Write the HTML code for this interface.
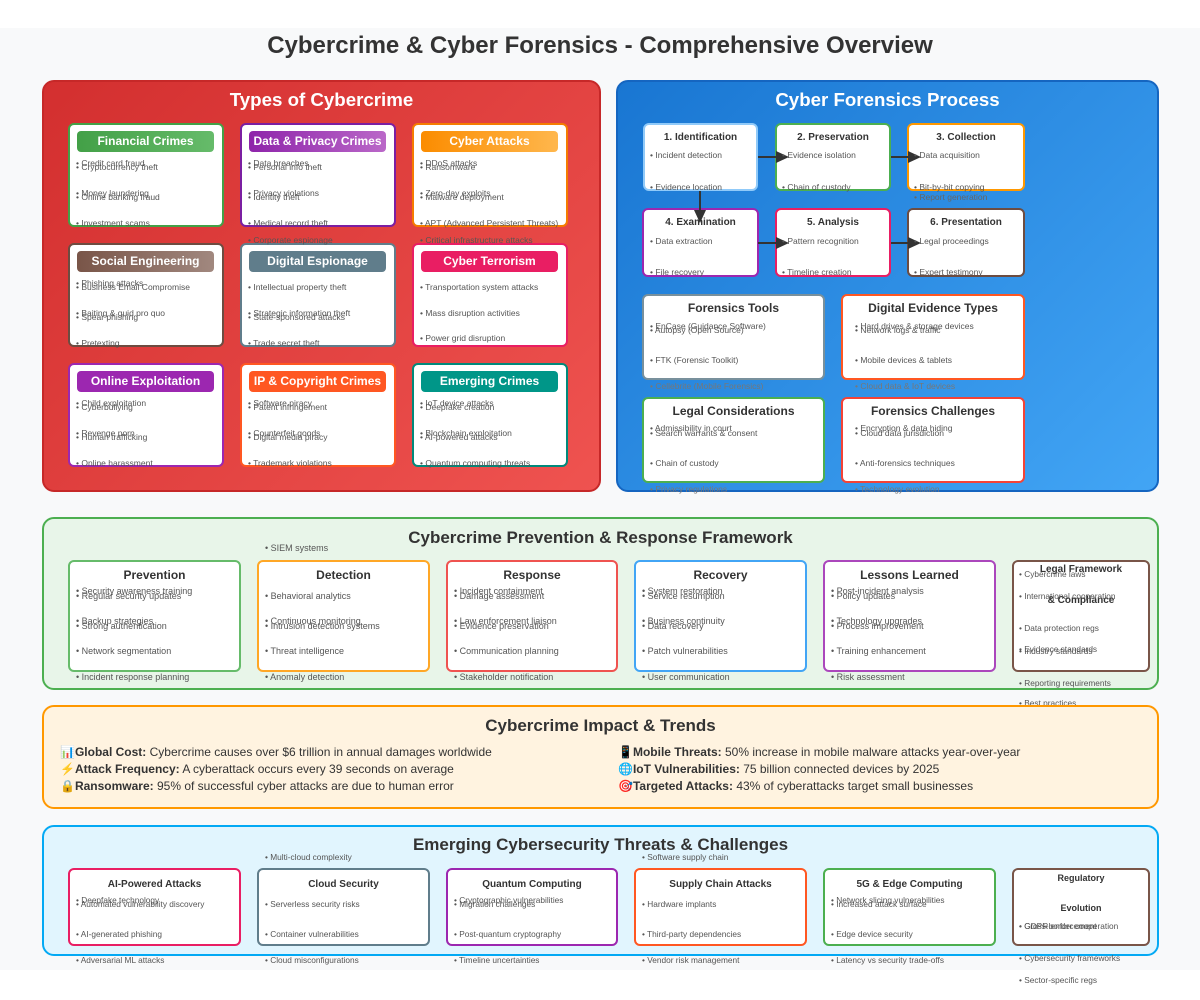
<!DOCTYPE html>
<html><head><meta charset="utf-8"><style>
*{margin:0;padding:0;box-sizing:border-box}
body{width:1200px;height:1000px;background:#fff;position:relative;overflow:hidden;font-family:"Liberation Sans","Noto Sans CJK SC",sans-serif;color:#333}
div{position:absolute}
.bg{left:0;top:28px;width:1200px;height:942px;background:#f8f9fa}
.h1{left:0;width:1200px;top:32px;text-align:center;font-size:24px;font-weight:bold;color:#333}
.panel{border-radius:12px;border:2px solid}
.pt{width:100%;text-align:center;font-weight:bold;font-size:17px}
.pt2{font-size:18.7px}
.card{background:#fff;border:2px solid;border-radius:6px}
.pill{left:7px;top:6px;width:137px;height:21px;border-radius:4px;color:#fff;font-weight:bold;font-size:12px;text-align:center;line-height:21px}
.i{font-size:8.5px;color:#555;white-space:nowrap}
.j{font-size:9px;color:#555;white-space:nowrap}
.k{font-size:8.3px;color:#555;white-space:nowrap}
.ct{width:100%;text-align:center;font-weight:bold;font-size:10px;color:#333}
.ar{height:2px;background:#333}
.ah{width:0;height:0;border-top:6px solid transparent;border-bottom:6px solid transparent;border-left:13px solid #333}
.imp{font-size:12px;color:#333;white-space:nowrap}
</style></head><body>
<div class="bg"></div>
<div class="h1">Cybercrime &amp; Cyber Forensics - Comprehensive Overview</div>

<!-- red panel -->
<div class="panel" style="left:42px;top:80px;width:559px;height:412px;background:linear-gradient(135deg,#d32f2f,#ef5350);border-color:#c62828"></div>
<div class="pt pt2" style="left:42px;width:559px;top:89px;color:#fff">Types of Cybercrime</div>

<div class="card" style="left:68px;top:123px;width:156px;height:104px;border-color:#43a047"><div class="pill" style="background:linear-gradient(90deg,#43a047,#66bb6a)">Financial Crimes</div></div>
<div class="card" style="left:240px;top:123px;width:156px;height:104px;border-color:#7b1fa2"><div class="pill" style="background:linear-gradient(90deg,#8e24aa,#ba68c8)">Data &amp; Privacy Crimes</div></div>
<div class="card" style="left:412px;top:123px;width:156px;height:104px;border-color:#f57c00"><div class="pill" style="background:linear-gradient(90deg,#fb8c00,#ffb74d)">Cyber Attacks</div></div>
<div class="card" style="left:68px;top:243px;width:156px;height:104px;border-color:#6d4c41"><div class="pill" style="background:linear-gradient(90deg,#795548,#a1887f)">Social Engineering</div></div>
<div class="card" style="left:240px;top:243px;width:156px;height:104px;border-color:#607d8b"><div class="pill" style="background:#607d8b">Digital Espionage</div></div>
<div class="card" style="left:412px;top:243px;width:156px;height:104px;border-color:#e91e63"><div class="pill" style="background:#e91e63">Cyber Terrorism</div></div>
<div class="card" style="left:68px;top:363px;width:156px;height:104px;border-color:#9c27b0"><div class="pill" style="background:#9c27b0">Online Exploitation</div></div>
<div class="card" style="left:240px;top:363px;width:156px;height:104px;border-color:#ff5722"><div class="pill" style="background:#ff5722">IP &amp; Copyright Crimes</div></div>
<div class="card" style="left:412px;top:363px;width:156px;height:104px;border-color:#00897b"><div class="pill" style="background:#009688">Emerging Crimes</div></div>

<div class="i" style="left:76px;top:158px">• Credit card fraud</div><div class="i" style="left:76px;top:162px">• Cryptocurrency theft</div>
<div class="i" style="left:76px;top:188px">• Money laundering</div><div class="i" style="left:76px;top:192px">• Online banking fraud</div>
<div class="i" style="left:76px;top:218px">• Investment scams</div>
<div class="i" style="left:248px;top:158px">• Data breaches</div><div class="i" style="left:248px;top:162px">• Personal info theft</div>
<div class="i" style="left:248px;top:188px">• Privacy violations</div><div class="i" style="left:248px;top:192px">• Identity theft</div>
<div class="i" style="left:248px;top:218px">• Medical record theft</div><div class="i" style="left:248px;top:235px">• Corporate espionage</div>
<div class="i" style="left:420px;top:158px">• DDoS attacks</div><div class="i" style="left:420px;top:162px">• Ransomware</div>
<div class="i" style="left:420px;top:188px">• Zero-day exploits</div><div class="i" style="left:420px;top:192px">• Malware deployment</div>
<div class="i" style="left:420px;top:218px">• APT (Advanced Persistent Threats)</div><div class="i" style="left:420px;top:235px">• Critical infrastructure attacks</div>
<div class="i" style="left:76px;top:278px">• Phishing attacks</div><div class="i" style="left:76px;top:282px">• Business Email Compromise</div>
<div class="i" style="left:76px;top:308px">• Baiting &amp; quid pro quo</div><div class="i" style="left:76px;top:312px">• Spear phishing</div>
<div class="i" style="left:76px;top:338px">• Pretexting</div>
<div class="i" style="left:248px;top:282px">• Intellectual property theft</div>
<div class="i" style="left:248px;top:308px">• Strategic information theft</div><div class="i" style="left:248px;top:312px">• State-sponsored attacks</div>
<div class="i" style="left:248px;top:338px">• Trade secret theft</div>
<div class="i" style="left:420px;top:282px">• Transportation system attacks</div>
<div class="i" style="left:420px;top:308px">• Mass disruption activities</div>
<div class="i" style="left:420px;top:333px">• Power grid disruption</div>
<div class="i" style="left:76px;top:398px">• Child exploitation</div><div class="i" style="left:76px;top:402px">• Cyberbullying</div>
<div class="i" style="left:76px;top:428px">• Revenge porn</div><div class="i" style="left:76px;top:432px">• Human trafficking</div>
<div class="i" style="left:76px;top:458px">• Online harassment</div>
<div class="i" style="left:248px;top:398px">• Software piracy</div><div class="i" style="left:248px;top:402px">• Patent infringement</div>
<div class="i" style="left:248px;top:428px">• Counterfeit goods</div><div class="i" style="left:248px;top:432px">• Digital media piracy</div>
<div class="i" style="left:248px;top:458px">• Trademark violations</div>
<div class="i" style="left:420px;top:398px">• IoT device attacks</div><div class="i" style="left:420px;top:402px">• Deepfake creation</div>
<div class="i" style="left:420px;top:428px">• Blockchain exploitation</div><div class="i" style="left:420px;top:432px">• AI-powered attacks</div>
<div class="i" style="left:420px;top:458px">• Quantum computing threats</div>

<!-- blue panel -->
<div class="panel" style="left:616px;top:80px;width:543px;height:412px;background:linear-gradient(135deg,#1976d2,#42a5f5);border-color:#1565c0"></div>
<div class="pt pt2" style="left:616px;width:543px;top:89px;color:#fff">Cyber Forensics Process</div>

<div class="card" style="left:643px;top:123px;width:115px;height:68px;border-color:#90caf9"><div class="ct" style="top:7px">1. Identification</div></div>
<div class="card" style="left:775px;top:123px;width:116px;height:68px;border-color:#4caf50"><div class="ct" style="top:7px">2. Preservation</div></div>
<div class="card" style="left:907px;top:123px;width:118px;height:68px;border-color:#ff9800"><div class="ct" style="top:7px">3. Collection</div></div>
<div class="card" style="left:642px;top:208px;width:117px;height:69px;border-color:#9c27b0"><div class="ct" style="top:7px">4. Examination</div></div>
<div class="card" style="left:775px;top:208px;width:116px;height:69px;border-color:#e91e63"><div class="ct" style="top:7px">5. Analysis</div></div>
<div class="card" style="left:907px;top:208px;width:118px;height:69px;border-color:#6d4c41"><div class="ct" style="top:7px">6. Presentation</div></div>
<div class="ar" style="left:758px;top:156px;width:20px"></div><div class="ah" style="left:776px;top:151px"></div>
<div class="ar" style="left:891px;top:156px;width:18px"></div><div class="ah" style="left:908px;top:151px"></div>
<div class="ar" style="left:758px;top:242px;width:20px"></div><div class="ah" style="left:776px;top:237px"></div>
<div class="ar" style="left:891px;top:242px;width:18px"></div><div class="ah" style="left:908px;top:237px"></div>
<div style="left:699px;top:191px;width:2px;height:22px;background:#333"></div>
<div style="left:694px;top:210px;width:0;height:0;border-left:6px solid transparent;border-right:6px solid transparent;border-top:13px solid #333"></div>

<div class="i" style="left:650px;top:150px">• Incident detection</div><div class="i" style="left:650px;top:182px">• Evidence location</div>
<div class="i" style="left:782px;top:150px">• Evidence isolation</div><div class="i" style="left:782px;top:182px">• Chain of custody</div>
<div class="i" style="left:914px;top:150px">• Data acquisition</div><div class="i" style="left:914px;top:182px">• Bit-by-bit copying</div><div class="i" style="left:914px;top:192px;color:#666">• Report generation</div>
<div class="i" style="left:650px;top:236px">• Data extraction</div><div class="i" style="left:650px;top:267px">• File recovery</div>
<div class="i" style="left:782px;top:236px">• Pattern recognition</div><div class="i" style="left:782px;top:267px">• Timeline creation</div>
<div class="i" style="left:914px;top:236px">• Legal proceedings</div><div class="i" style="left:914px;top:267px">• Expert testimony</div>

<div class="card" style="left:642px;top:294px;width:183px;height:86px;border-color:#78909c"><div class="ct" style="top:5px;font-size:12px">Forensics Tools</div></div>
<div class="card" style="left:841px;top:294px;width:184px;height:86px;border-color:#ff5722"><div class="ct" style="top:5px;font-size:12px">Digital Evidence Types</div></div>
<div class="card" style="left:642px;top:397px;width:183px;height:86px;border-color:#4caf50"><div class="ct" style="top:5px;font-size:12px">Legal Considerations</div></div>
<div class="card" style="left:841px;top:397px;width:184px;height:86px;border-color:#f44336"><div class="ct" style="top:5px;font-size:12px">Forensics Challenges</div></div>
<div class="i" style="left:650px;top:321px">• EnCase (Guidance Software)</div><div class="i" style="left:650px;top:325px">• Autopsy (Open Source)</div>
<div class="i" style="left:650px;top:355px">• FTK (Forensic Toolkit)</div><div class="i" style="left:650px;top:381px;color:#777">• Cellebrite (Mobile Forensics)</div>
<div class="i" style="left:855px;top:321px">• Hard drives &amp; storage devices</div><div class="i" style="left:855px;top:325px">• Network logs &amp; traffic</div>
<div class="i" style="left:855px;top:355px">• Mobile devices &amp; tablets</div><div class="i" style="left:855px;top:381px;color:#777">• Cloud data &amp; IoT devices</div>
<div class="i" style="left:650px;top:423px">• Admissibility in court</div><div class="i" style="left:650px;top:428px">• Search warrants &amp; consent</div>
<div class="i" style="left:650px;top:458px">• Chain of custody</div><div class="i" style="left:650px;top:484px;color:#777">• Privacy regulations</div>
<div class="i" style="left:855px;top:423px">• Encryption &amp; data hiding</div><div class="i" style="left:855px;top:428px">• Cloud data jurisdiction</div>
<div class="i" style="left:855px;top:458px">• Anti-forensics techniques</div><div class="i" style="left:855px;top:484px;color:#777">• Technology evolution</div>

<!-- green framework -->
<div class="panel" style="left:42px;top:517px;width:1117px;height:173px;background:#e8f5e9;border-color:#4caf50"></div>
<div class="pt" style="left:42px;width:1117px;top:528px;color:#333">Cybercrime Prevention &amp; Response Framework</div>
<div class="card" style="left:68px;top:560px;width:173px;height:112px;border-color:#66bb6a"><div class="ct" style="top:6px;font-size:12px">Prevention</div></div>
<div class="card" style="left:257px;top:560px;width:173px;height:112px;border-color:#ffa726"><div class="ct" style="top:6px;font-size:12px">Detection</div></div>
<div class="card" style="left:446px;top:560px;width:172px;height:112px;border-color:#ef5350"><div class="ct" style="top:6px;font-size:12px">Response</div></div>
<div class="card" style="left:634px;top:560px;width:173px;height:112px;border-color:#42a5f5"><div class="ct" style="top:6px;font-size:12px">Recovery</div></div>
<div class="card" style="left:823px;top:560px;width:173px;height:112px;border-color:#ab47bc"><div class="ct" style="top:6px;font-size:12px">Lessons Learned</div></div>
<div class="card" style="left:1012px;top:560px;width:138px;height:112px;border-color:#795548"></div>
<div class="ct" style="left:1012px;width:138px;top:564px">Legal Framework</div>
<div class="ct" style="left:1012px;width:138px;top:595px">&amp; Compliance</div>
<div class="j" style="left:76px;top:586px">• Security awareness training</div><div class="j" style="left:76px;top:591px">• Regular security updates</div>
<div class="j" style="left:76px;top:616px">• Backup strategies</div><div class="j" style="left:76px;top:621px">• Strong authentication</div>
<div class="j" style="left:76px;top:646px">• Network segmentation</div><div class="j" style="left:76px;top:672px">• Incident response planning</div>
<div class="j" style="left:265px;top:543px">• SIEM systems</div><div class="j" style="left:265px;top:591px">• Behavioral analytics</div>
<div class="j" style="left:265px;top:616px">• Continuous monitoring</div><div class="j" style="left:265px;top:621px">• Intrusion detection systems</div>
<div class="j" style="left:265px;top:646px">• Threat intelligence</div><div class="j" style="left:265px;top:672px">• Anomaly detection</div>
<div class="j" style="left:454px;top:586px">• Incident containment</div><div class="j" style="left:454px;top:591px">• Damage assessment</div>
<div class="j" style="left:454px;top:616px">• Law enforcement liaison</div><div class="j" style="left:454px;top:621px">• Evidence preservation</div>
<div class="j" style="left:454px;top:646px">• Communication planning</div><div class="j" style="left:454px;top:672px">• Stakeholder notification</div>
<div class="j" style="left:642px;top:586px">• System restoration</div><div class="j" style="left:642px;top:591px">• Service resumption</div>
<div class="j" style="left:642px;top:616px">• Business continuity</div><div class="j" style="left:642px;top:621px">• Data recovery</div>
<div class="j" style="left:642px;top:646px">• Patch vulnerabilities</div><div class="j" style="left:642px;top:672px">• User communication</div>
<div class="j" style="left:831px;top:586px">• Post-incident analysis</div><div class="j" style="left:831px;top:591px">• Policy updates</div>
<div class="j" style="left:831px;top:616px">• Technology upgrades</div><div class="j" style="left:831px;top:621px">• Process improvement</div>
<div class="j" style="left:831px;top:646px">• Training enhancement</div><div class="j" style="left:831px;top:672px">• Risk assessment</div>
<div class="k" style="left:1019px;top:569px">• Cybercrime laws</div><div class="k" style="left:1019px;top:591px">• International cooperation</div>
<div class="k" style="left:1019px;top:623px">• Data protection regs</div><div class="k" style="left:1019px;top:644px">• Evidence standards</div><div class="k" style="left:1019px;top:646px">• Industry standards</div>
<div class="k" style="left:1019px;top:678px">• Reporting requirements</div><div class="k" style="left:1019px;top:698px">• Best practices</div>

<!-- orange impact -->
<div class="panel" style="left:42px;top:705px;width:1117px;height:104px;background:#fff3e0;border-color:#ff9800"></div>
<div class="pt" style="left:42px;width:1117px;top:716px;color:#333">Cybercrime Impact &amp; Trends</div>
<div class="imp" style="left:60px;top:745px">📊<b>Global Cost:</b> Cybercrime causes over $6 trillion in annual damages worldwide</div>
<div class="imp" style="left:60px;top:762px">⚡<b>Attack Frequency:</b> A cyberattack occurs every 39 seconds on average</div>
<div class="imp" style="left:60px;top:779px">🔒<b>Ransomware:</b> 95% of successful cyber attacks are due to human error</div>
<div class="imp" style="left:618px;top:745px">📱<b>Mobile Threats:</b> 50% increase in mobile malware attacks year-over-year</div>
<div class="imp" style="left:618px;top:762px">🌐<b>IoT Vulnerabilities:</b> 75 billion connected devices by 2025</div>
<div class="imp" style="left:618px;top:779px">🎯<b>Targeted Attacks:</b> 43% of cyberattacks target small businesses</div>

<!-- light blue emerging -->
<div class="panel" style="left:42px;top:825px;width:1117px;height:131px;background:#e1f5fe;border-color:#03a9f4"></div>
<div class="pt" style="left:42px;width:1117px;top:835px;color:#333">Emerging Cybersecurity Threats &amp; Challenges</div>
<div class="card" style="left:68px;top:868px;width:173px;height:78px;border-color:#e91e63"><div class="ct" style="top:9px">AI-Powered Attacks</div></div>
<div class="card" style="left:257px;top:868px;width:173px;height:78px;border-color:#607d8b"><div class="ct" style="top:9px">Cloud Security</div></div>
<div class="card" style="left:446px;top:868px;width:172px;height:78px;border-color:#9c27b0"><div class="ct" style="top:9px">Quantum Computing</div></div>
<div class="card" style="left:634px;top:868px;width:173px;height:78px;border-color:#ff5722"><div class="ct" style="top:9px">Supply Chain Attacks</div></div>
<div class="card" style="left:823px;top:868px;width:173px;height:78px;border-color:#4caf50"><div class="ct" style="top:9px">5G &amp; Edge Computing</div></div>
<div class="card" style="left:1012px;top:868px;width:138px;height:78px;border-color:#795548"></div>
<div class="ct" style="left:1012px;width:138px;top:873px;font-size:9px">Regulatory</div>
<div class="ct" style="left:1012px;width:138px;top:903px;font-size:9px">Evolution</div>
<div class="k" style="left:76px;top:895px">• Deepfake technology</div><div class="k" style="left:76px;top:899px">• Automated vulnerability discovery</div>
<div class="k" style="left:76px;top:929px">• AI-generated phishing</div><div class="k" style="left:76px;top:955px">• Adversarial ML attacks</div>
<div class="k" style="left:265px;top:852px">• Multi-cloud complexity</div><div class="k" style="left:265px;top:899px">• Serverless security risks</div>
<div class="k" style="left:265px;top:929px">• Container vulnerabilities</div><div class="k" style="left:265px;top:955px">• Cloud misconfigurations</div>
<div class="k" style="left:454px;top:895px">• Cryptographic vulnerabilities</div><div class="k" style="left:454px;top:899px">• Migration challenges</div>
<div class="k" style="left:454px;top:929px">• Post-quantum cryptography</div><div class="k" style="left:454px;top:955px">• Timeline uncertainties</div>
<div class="k" style="left:642px;top:852px">• Software supply chain</div><div class="k" style="left:642px;top:899px">• Hardware implants</div>
<div class="k" style="left:642px;top:929px">• Third-party dependencies</div><div class="k" style="left:642px;top:955px">• Vendor risk management</div>
<div class="k" style="left:831px;top:895px">• Network slicing vulnerabilities</div><div class="k" style="left:831px;top:899px">• Increased attack surface</div>
<div class="k" style="left:831px;top:929px">• Edge device security</div><div class="k" style="left:831px;top:955px">• Latency vs security trade-offs</div>
<div class="k" style="left:1019px;top:921px">• GDPR enforcement</div><div class="k" style="left:1019px;top:921px">• Cross-border cooperation</div>
<div class="k" style="left:1019px;top:953px">• Cybersecurity frameworks</div><div class="k" style="left:1019px;top:975px">• Sector-specific regs</div>
</body></html>
